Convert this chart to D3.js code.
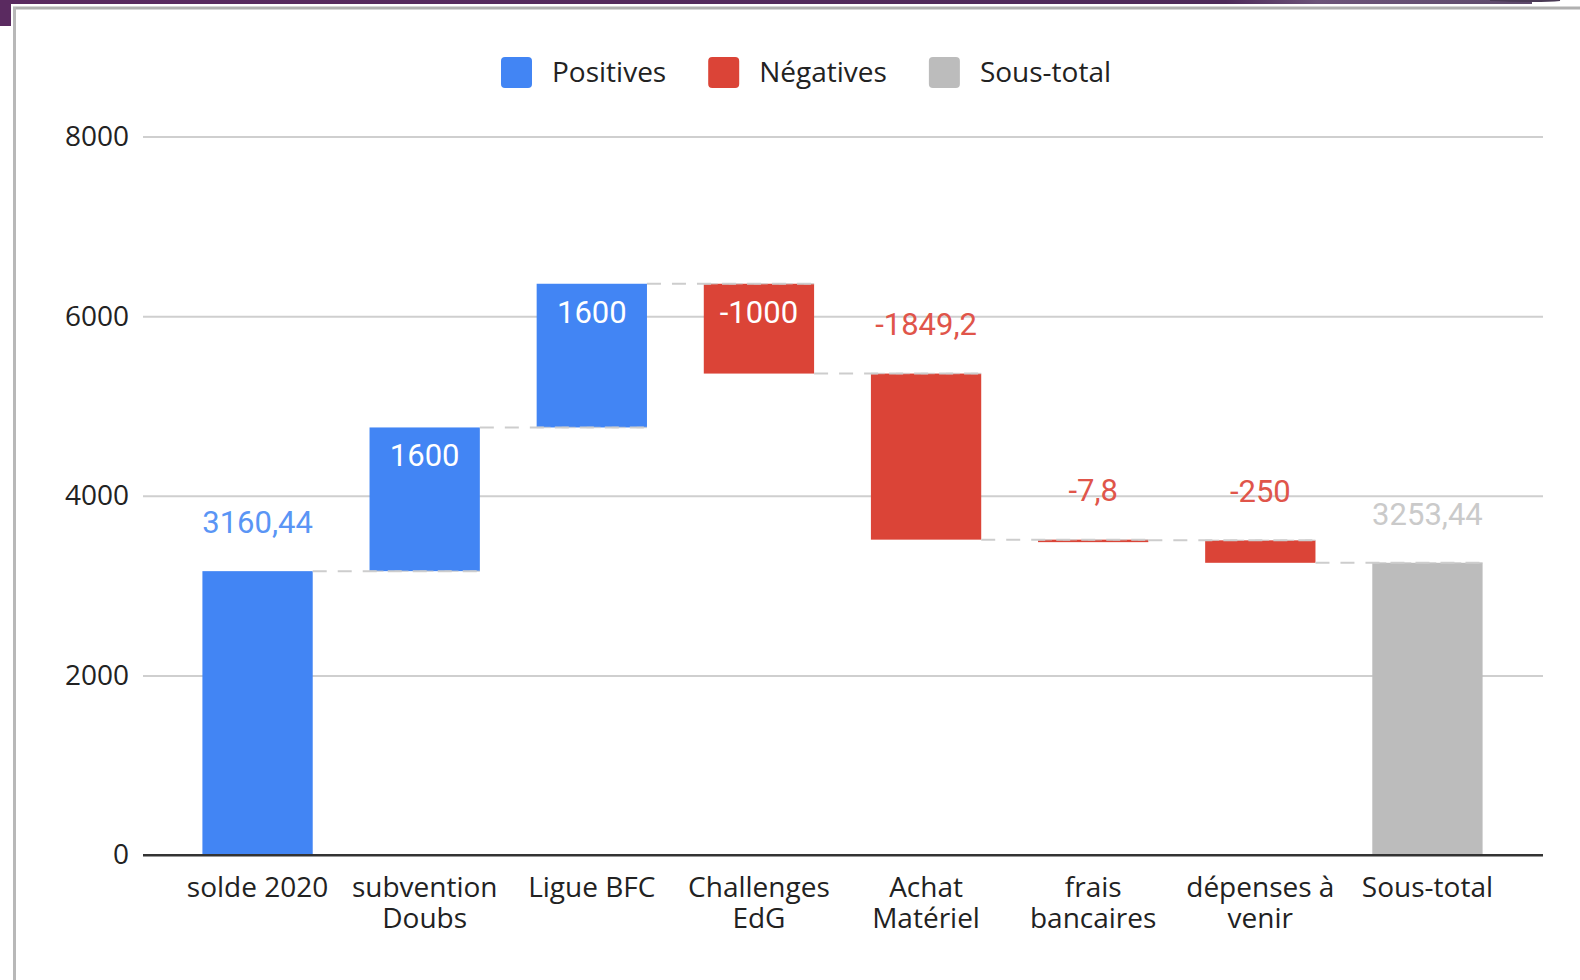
<!DOCTYPE html>
<html><head><meta charset="utf-8">
<script src="https://cdn.jsdelivr.net/npm/d3@7"></script>
<style>
html,body{margin:0;padding:0;background:#fff;}
svg{display:block;}
</style></head>
<body>
<svg id="chart" width="1580" height="980"></svg>
<script>
// ---- data ----
const categories = [["solde 2020"],["subvention","Doubs"],["Ligue BFC"],["Challenges","EdG"],["Achat","Matériel"],["frais","bancaires"],["dépenses à","venir"],["Sous-total"]];
const values = [3160.44, 1600, 1600, -1000, -1849.2, -7.8, -250, 3253.44];
const kinds = ["total","pos","pos","neg","neg","neg","neg","sub"];
const valueLabels = ["3160,44","1600","1600","-1000","-1849,2","-7,8","-250","3253,44"];
const labelInside = [false,true,true,true,false,false,false,false];
const yTicks = [0,2000,4000,6000,8000];
const legendNames = ["Positives","Négatives","Sous-total"];

const colors = {pos:"#4285f4", total:"#4285f4", neg:"#db4437", sub:"#bcbcbc"};
const labelColors = {pos:"#5a95f5", total:"#5a95f5", neg:"#e0554a", sub:"#cacaca"};
const legendColors = ["#4285f4","#db4437","#bcbcbc"];

// compute waterfall
let run = 0;
const bars = values.map((v,i)=>{
  let y0,y1;
  if(kinds[i]==="total" || kinds[i]==="sub"){ y0=0; y1=v; run=v; }
  else { y0=run; y1=run+v; run=y1; }
  return {i, y0, y1, end:run, kind:kinds[i]};
});

const svg = d3.select("#chart");

// frame decorations
const defs = svg.append("defs");
const grad = defs.append("linearGradient").attr("id","pg").attr("x1","0").attr("x2","1");
grad.append("stop").attr("offset","0").attr("stop-color","#5a2a60");
grad.append("stop").attr("offset","0.8").attr("stop-color","#4e2a5a");
grad.append("stop").attr("offset","0.86").attr("stop-color","#6c5479");
grad.append("stop").attr("offset","1").attr("stop-color","#5e4a6c");
svg.append("rect").attr("x",0).attr("y",0).attr("width",1532).attr("height",4).attr("fill","url(#pg)");
svg.append("rect").attr("x",0).attr("y",0).attr("width",11).attr("height",26).attr("fill","#5a2a60");
svg.append("path").attr("d","M1490,0 Q1540,2 1560,0").attr("stroke","#4a3a55").attr("fill","none").attr("stroke-width",2);
svg.append("line").attr("x1",13).attr("x2",1580).attr("y1",8).attr("y2",8).attr("stroke","#b0b0b0").attr("stroke-width",3);
svg.append("line").attr("x1",14.5).attr("x2",14.5).attr("y1",7).attr("y2",980).attr("stroke","#b8b8b8").attr("stroke-width",3);

// scales
const x = d3.scaleBand().domain(d3.range(categories.length)).range([174,1511]).paddingInner(0.34).paddingOuter(0.17);
const y = d3.scaleLinear().domain([0,8000]).range([855,136.5]);
const plotL = 143, plotR = 1543;

// gridlines + y tick labels
const gAxis = svg.append("g").attr("transform",`translate(${plotL},0)`);
gAxis.call(d3.axisLeft(y).tickValues(yTicks).tickSize(-(plotR-plotL)).tickPadding(14).tickFormat(d3.format("d")))
  .call(g=>g.select(".domain").remove())
  .call(g=>g.selectAll(".tick line").attr("stroke", d=>d===0?"#333":"#cfcfcf").attr("stroke-width",2))
  .call(g=>g.selectAll(".tick text").attr("font-family","'Open Sans'").attr("font-size",28).attr("fill","#222"));

// connectors
const conn = svg.append("g");
for(let i=0;i<bars.length-1;i++){
  const yv = y(bars[i].end);
  conn.append("line")
    .attr("x1", x(i)+x.bandwidth()).attr("x2", x(i+1)+x.bandwidth())
    .attr("y1", yv).attr("y2", yv)
    .attr("stroke","#cdcdcd").attr("stroke-width",2).attr("stroke-dasharray","14,11");
}

// bars
svg.append("g").selectAll("rect").data(bars).join("rect")
  .attr("x", d=>x(d.i)).attr("width", x.bandwidth())
  .attr("y", d=>y(Math.max(d.y0,d.y1)))
  .attr("height", d=>Math.max(2.5, Math.abs(y(d.y0)-y(d.y1))))
  .attr("fill", d=>colors[d.kind]);

// connector overlap on bar tops
for(let i=0;i<bars.length-1;i++){
  const yv = y(bars[i].end);
  conn.append("line")
    .attr("x1", x(i+1)).attr("x2", x(i+1)+x.bandwidth())
    .attr("y1", yv).attr("y2", yv)
    .attr("stroke","#cdcdcd").attr("stroke-width",1.5).attr("stroke-dasharray","14,11").attr("opacity",0.7);
}
svg.node().appendChild(conn.node());

// baseline
svg.append("line").attr("x1",plotL).attr("x2",plotR).attr("y1",y(0)).attr("y2",y(0)).attr("stroke","#333").attr("stroke-width",2);

// value labels
svg.append("g").selectAll("text").data(bars).join("text")
  .attr("x", d=>x(d.i)+x.bandwidth()/2)
  .attr("y", d=>{
    const top = y(Math.max(d.y0,d.y1));
    return labelInside[d.i] ? top+28 : top-49;
  })
  .attr("dy","0.35em")
  .attr("text-anchor","middle")
  .attr("font-family","Roboto").attr("font-size",31)
  .attr("fill", d=>labelInside[d.i] ? "#ffffff" : labelColors[d.kind])
  .text(d=>valueLabels[d.i]);

// category labels
const cat = svg.append("g").selectAll("text").data(categories).join("text")
  .attr("x",(d,i)=>x(i)+x.bandwidth()/2)
  .attr("y",887)
  .attr("text-anchor","middle")
  .attr("font-family","'Open Sans'").attr("font-size",28).attr("fill","#222");
cat.each(function(d){
  const t = d3.select(this);
  d.forEach((line,k)=>{
    t.append("tspan").attr("x", t.attr("x")).attr("dy", k===0?"0.35em":"31").text(line);
  });
});

// legend
const lg = svg.append("g");
let lx = 501;
legendNames.forEach((n,i)=>{
  lg.append("rect").attr("x",lx).attr("y",57).attr("width",31).attr("height",31).attr("rx",4).attr("fill",legendColors[i]);
  const t = lg.append("text").attr("x",lx+51).attr("y",72.5).attr("dy","0.35em")
    .attr("font-family","'Open Sans'").attr("font-size",28).attr("fill","#222").text(n);
  lx = lx + 51 + t.node().getComputedTextLength() + 42;
});
</script>
</body></html>
